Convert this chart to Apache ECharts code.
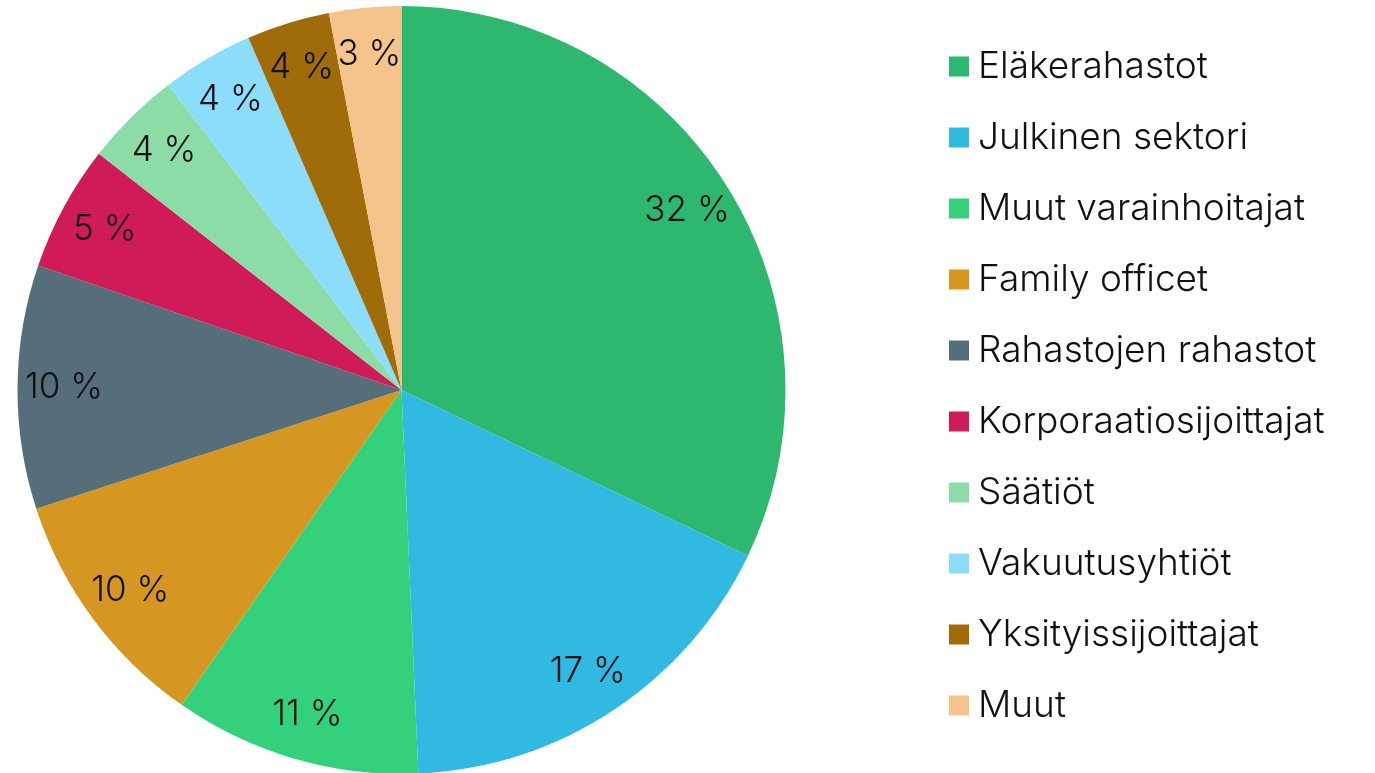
<!DOCTYPE html>
<html>
<head>
<meta charset="utf-8">
<script src="https://cdn.jsdelivr.net/npm/echarts@6/dist/echarts.min.js"></script>
<style>
	html,body{margin:0;padding:0;background:#fff;}
	#chart{width:1375px;height:773px;}
</style>
</head>
<body>
<div id="chart"></div>
<script>
	// sektorit, arvot luettu kuvasta (kulmista), näytetyt prosentit erikseen
	var categories = ['Eläkerahastot','Julkinen sektori','Muut varainhoitajat','Family officet','Rahastojen rahastot','Korporaatiosijoittajat','Säätiöt','Vakuutusyhtiöt','Yksityissijoittajat','Muut'];
	var values = [32.1, 17.2, 10.4, 10.3, 10.25, 5.3, 4.06, 3.86, 3.5, 3.03];
	var shownPct = [32, 17, 11, 10, 10, 5, 4, 4, 4, 3];
	var colors = ['#2eb86f','#30b9e1','#34d17c','#d69722','#556e7a','#cf1b57','#8bdca7','#8cdcfc','#a06b09','#f5c48c'];

	var FONT = 'Inter';
	var chart = echarts.init(document.getElementById('chart'));

	var pieData = categories.map(function(n,i){
		return {name:n, value:values[i], itemStyle:{color:colors[i]}};
	});
	var labelData = categories.map(function(n,i){
		return {name:n, value:values[i], pct:shownPct[i]};
	});

	var option = {
		animation:false,
		legend:{
			orient:'vertical',
			left:949, top:48,
			padding:0,
			itemWidth:20, itemHeight:20,
			itemGap:34.0,
			icon:'rect',
			selectedMode:false,
			textStyle:{fontFamily:FONT, fontWeight:300, fontSize:37, color:'#111', padding:[0,0,0,4]},
			data:categories.map(function(n,i){return {name:n, itemStyle:{color:colors[i]}};})
		},
		series:[
			{
				type:'pie',
				center:[401.5,390],
				radius:[0,384],
				startAngle:90,
				clockwise:true,
				label:{show:false},
				labelLine:{show:false},
				itemStyle:{borderWidth:0},
				emphasis:{disabled:true},
				data:pieData
			},
			{
				// läpinäkyvä rengas vain tekstejä varten
				type:'pie',
				center:[401.5,390],
				radius:[285,384],
				startAngle:90,
				clockwise:true,
				silent:true,
				itemStyle:{color:'rgba(0,0,0,0)',borderWidth:0},
				emphasis:{disabled:true},
				labelLine:{show:false},
				label:{
					show:true, position:'inside',
					fontFamily:FONT, fontWeight:300, fontSize:35, color:'#111',
					formatter:function(p){return labelData[p.dataIndex].pct+' %';}
				},
				data:labelData
			}
		]
	};
	chart.setOption(option);
</script>
</body>
</html>
